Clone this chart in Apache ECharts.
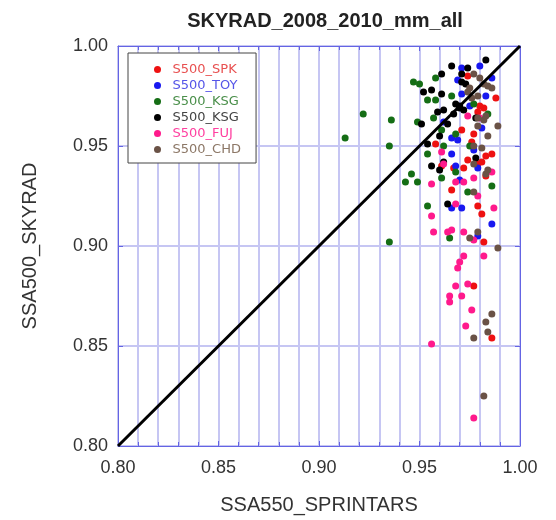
<!DOCTYPE html>
<html>
<head>
<meta charset="utf-8">
<script src="https://cdn.jsdelivr.net/npm/echarts@6/dist/echarts.min.js"></script>
<style>
  html, body { margin: 0; padding: 0; background: #fff; }
  #chart { width: 556px; height: 520px; }
</style>
</head>
<body>
<div id="chart"></div>
<script>
// [SSA550_SPRINTARS, SSA500_SKYRAD]
var spk = [[0.988,0.974],[0.982,0.969],[0.971,0.958],[0.977,0.956],[0.958,0.951],[0.974,0.943],
  [0.983,0.945],[0.976,0.952],[0.980,0.970],[0.974,0.985],[0.961,0.940],[0.972,0.939],
  [0.967,0.939],[0.979,0.967],[0.986,0.946],[0.979,0.941],[0.966,0.928],[0.979,0.920],
  [0.981,0.916],[0.983,0.935],[0.982,0.902],[0.981,0.942],[0.977,0.880],[0.986,0.854]];
var toy = [[0.980,0.990],[0.971,0.989],[0.986,0.984],[0.969,0.983],[0.971,0.976],[0.983,0.975],
  [0.975,0.970],[0.962,0.962],[0.966,0.954],[0.969,0.953],[0.981,0.959],[0.966,0.946],
  [0.977,0.948],[0.979,0.939],[0.966,0.919],[0.971,0.919],[0.986,0.911],[0.970,0.933],
  [0.968,0.940],[0.979,0.905]];
var ksgGreen = [[0.913,0.954],[0.922,0.966],[0.935,0.902],[0.935,0.950],[0.936,0.963],[0.943,0.932],
  [0.946,0.936],[0.947,0.982],[0.949,0.932],[0.949,0.962],[0.950,0.981],[0.954,0.920],
  [0.954,0.946],[0.954,0.973],[0.957,0.964],[0.958,0.973],[0.958,0.984],[0.961,0.958],
  [0.961,0.934],[0.962,0.950],[0.965,0.904],[0.966,0.975],[0.968,0.956],[0.968,0.937],
  [0.974,0.927],[0.975,0.950],[0.977,0.971],[0.984,0.966],[0.986,0.930]];
var ksgBlack = [[0.983,0.993],[0.961,0.986],[0.966,0.990],[0.971,0.986],[0.974,0.989],[0.956,0.978],
  [0.961,0.976],[0.952,0.977],[0.973,0.981],[0.970,0.970],[0.968,0.971],[0.959,0.967],
  [0.962,0.968],[0.951,0.961],[0.967,0.966],[0.954,0.951],[0.956,0.940],[0.964,0.961],
  [0.972,0.968],[0.978,0.964],[0.960,0.955],[0.971,0.982],[0.978,0.944],[0.962,0.942],
  [0.964,0.921],[0.960,0.938],[0.970,0.969]];
var fuj = [[0.956,0.931],[0.968,0.932],[0.972,0.932],[0.977,0.934],[0.979,0.925],[0.968,0.921],
  [0.956,0.915],[0.987,0.919],[0.957,0.907],[0.964,0.907],[0.966,0.908],[0.972,0.907],
  [0.977,0.903],[0.982,0.895],[0.972,0.895],[0.970,0.892],[0.969,0.889],[0.968,0.880],
  [0.974,0.881],[0.965,0.875],[0.965,0.872],[0.971,0.875],[0.976,0.868],[0.973,0.860],
  [0.956,0.851],[0.977,0.814],[0.962,0.941],[0.986,0.937],[0.961,0.947],[0.974,0.965],
  [0.980,0.964]];
var chd = [[0.977,0.986],[0.980,0.984],[0.984,0.980],[0.975,0.979],[0.979,0.975],[0.986,0.979],
  [0.974,0.977],[0.976,0.974],[0.982,0.963],[0.989,0.960],[0.984,0.955],[0.979,0.960],
  [0.981,0.949],[0.977,0.950],[0.979,0.964],[0.983,0.965],[0.977,0.941],[0.984,0.938],
  [0.983,0.936],[0.977,0.927],[0.979,0.907],[0.975,0.904],[0.989,0.899],[0.986,0.866],
  [0.983,0.862],[0.984,0.857],[0.977,0.854],[0.982,0.825],[0.982,0.981]];
var oneToOne = [[0.80,0.80],[1.00,1.00]];

var seriesNames = ['S500_SPK', 'S500_TOY', 'S500_KSG', 'S500_KSG ', 'S500_FUJ', 'S500_CHD'];
var seriesData = [spk, toy, ksgGreen, ksgBlack, fuj, chd];
var dotColors = ['#ee1111', '#1818f0', '#156e15', '#000000', '#ff1a8c', '#6a5246'];
var textColors = ['#e85050', '#5555e8', '#4a8f4a', '#444444', '#ff40a0', '#8c7766'];

var font = 'Liberation Sans, Arial, sans-serif';
var borderColor = '#6464e4';
var gridColor = '#c6c6f3';

var chart = echarts.init(document.getElementById('chart'));

var series = seriesData.map(function (d, i) {
  return {
    name: seriesNames[i],
    type: 'scatter',
    data: d,
    symbolSize: 7,
    itemStyle: { color: dotColors[i], opacity: 1 },
    z: 3
  };
});
series.push({
  type: 'line',
  data: oneToOne,
  symbol: 'none',
  lineStyle: { color: '#000', width: 3 },
  z: 4,
  silent: true
});

var option = {
  animation: false,
  backgroundColor: '#fff',
  title: {
    text: 'SKYRAD_2008_2010_mm_all',
    left: 320,
    textAlign: 'center',
    top: 6,
    textStyle: { fontFamily: font, fontSize: 20, fontWeight: 'bold', color: '#222' }
  },
  legend: {
    orient: 'vertical',
    left: 128,
    top: 53,
    padding: [10, 13, 7, 26],
    itemWidth: 20,
    itemHeight: 7,
    itemGap: 3,
    icon: 'circle',
    backgroundColor: '#fff',
    borderColor: '#444',
    borderWidth: 1,
    textStyle: { fontFamily: 'DejaVu Sans, Verdana, sans-serif', fontSize: 13, lineHeight: 13 },
    data: seriesNames.map(function (n, i) {
      return { name: n, textStyle: { color: textColors[i] } };
    })
  },
  grid: {
    left: 118, right: 36, top: 46, bottom: 71,
    show: true, borderColor: borderColor, borderWidth: 1
  },
  xAxis: [{
    type: 'value', min: 0.8, max: 1.0, interval: 0.05,
    name: 'SSA550_SPRINTARS', nameLocation: 'middle', nameGap: 49,
    nameTextStyle: { fontFamily: font, fontSize: 20, color: '#333' },
    axisLine: { lineStyle: { color: borderColor } },
    axisTick: { inside: true, length: 5, lineStyle: { color: borderColor } },
    minorTick: { show: true, splitNumber: 5, length: 4, lineStyle: { color: borderColor } },
    splitLine: { show: true, lineStyle: { color: gridColor, width: 2 } },
    minorSplitLine: { show: true, lineStyle: { color: gridColor, width: 2 } },
    axisLabel: { fontFamily: font, fontSize: 18, color: '#333', margin: 13,
      formatter: function (v) { return v.toFixed(2); } }
  }, {
    type: 'value', min: 0.8, max: 1.0, interval: 0.05, position: 'top',
    axisLine: { show: true, lineStyle: { color: borderColor } },
    axisTick: { inside: true, length: 5, lineStyle: { color: borderColor } },
    minorTick: { show: true, splitNumber: 5, length: 4, lineStyle: { color: borderColor } },
    splitLine: { show: false },
    axisLabel: { show: false }
  }],
  yAxis: [{
    type: 'value', min: 0.8, max: 1.0, interval: 0.05,
    name: 'SSA500_SKYRAD', nameLocation: 'middle', nameGap: 78, nameRotate: 90,
    nameTextStyle: { fontFamily: font, fontSize: 20, color: '#333' },
    axisLine: { show: true, lineStyle: { color: borderColor } },
    axisTick: { inside: true, length: 5, lineStyle: { color: borderColor } },
    splitLine: { show: true, lineStyle: { color: gridColor, width: 2 } },
    axisLabel: { fontFamily: font, fontSize: 18, color: '#333', margin: 10,
      formatter: function (v) { return v.toFixed(2); } }
  }, {
    type: 'value', min: 0.8, max: 1.0, interval: 0.05, position: 'right',
    axisLine: { show: true, lineStyle: { color: borderColor } },
    axisTick: { inside: true, length: 5, lineStyle: { color: borderColor } },
    splitLine: { show: false },
    axisLabel: { show: false }
  }],
  series: series
};

chart.setOption(option);
</script>
</body>
</html>
